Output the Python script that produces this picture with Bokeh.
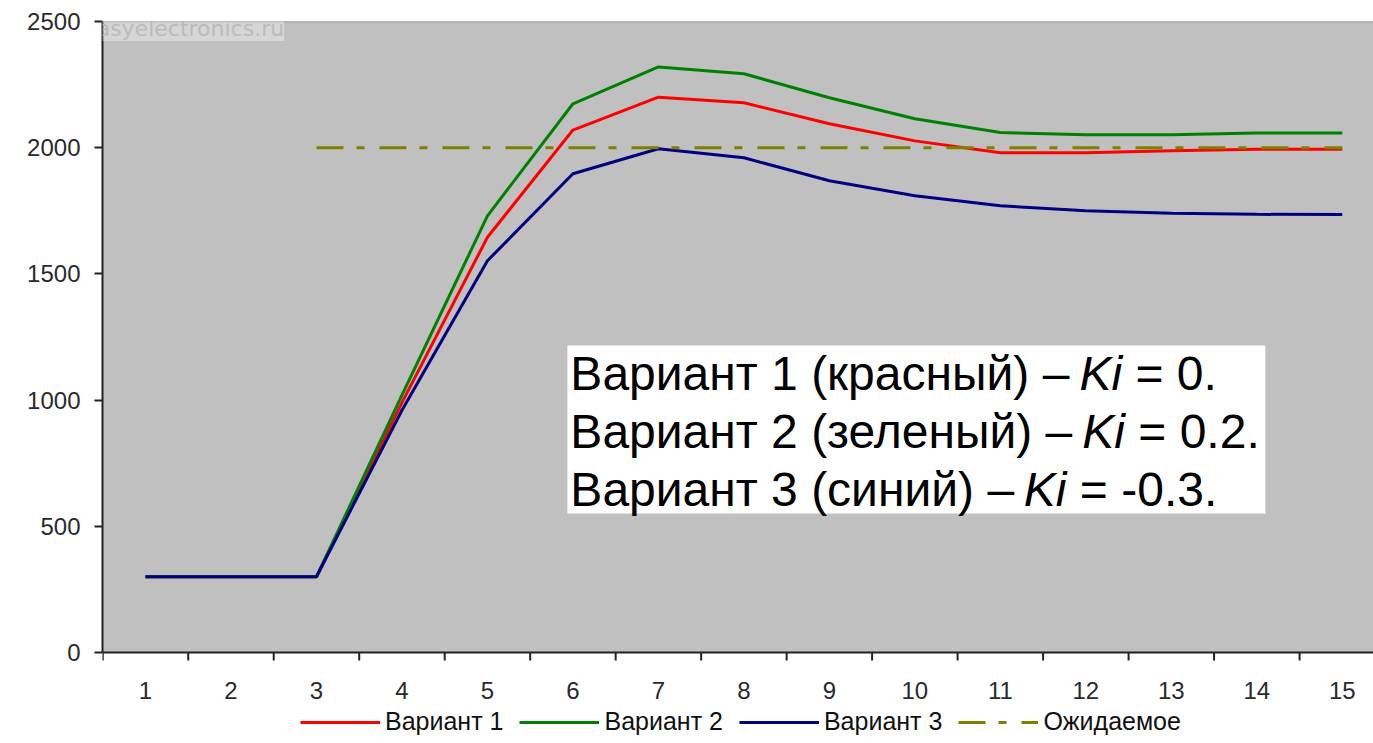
import math
from bokeh.plotting import figure
from bokeh.models import (FixedTicker, Legend, LegendItem, Label, BoxAnnotation,
                          Span, Range1d)
from bokeh.core.properties import value
from bokeh.embed import file_html
from bokeh.resources import INLINE

# ---------------- data ----------------
steps = list(range(1, 16))
step_labels = [str(s) for s in steps]
variant1 = [300, 300, 300, 990, 1645, 2070, 2200, 2178, 2095, 2027, 1980, 1980, 1988, 1994, 1994]
variant2 = [300, 300, 300, 1020, 1730, 2174, 2320, 2293, 2198, 2115, 2060, 2051, 2051, 2058, 2058]
variant3 = [300, 300, 300, 960, 1552, 1897, 1996, 1960, 1869, 1810, 1770, 1750, 1740, 1736, 1735]
expected = [math.nan, math.nan, 2000, 2000, 2000, 2000, 2000, 2000, 2000, 2000, 2000, 2000, 2000, 2000, 2000]
series_names = ["Вариант 1", "Вариант 2", "Вариант 3", "Ожидаемое"]
y_ticks = [0, 500, 1000, 1500, 2000, 2500]
note_lines = [
    ("Вариант 1 (красный) –", "Ki", "= 0."),
    ("Вариант 2 (зеленый) –", "Ki", "= 0.2."),
    ("Вариант 3 (синий) –", "Ki", "= -0.3."),
]
watermark = "forum.easyelectronics.ru"

# ---------------- figure ----------------
FONT = "Liberation Sans"
Y_MAX = 2500
PX = Y_MAX / 631.0          # data units per pixel (plot area 631 px tall)
p = figure(width=1373, height=743, output_backend="svg", toolbar_location=None,
           x_range=Range1d(0.497, 15.365), y_range=Range1d(-91 * PX, Y_MAX),
           x_axis_location=None,
           min_border_left=102, min_border_right=0, min_border_top=21,
           min_border_bottom=0)
p.background_fill_color = "white"
p.border_fill_color = "white"
p.outline_line_color = None
p.xgrid.visible = False
p.ygrid.visible = False

# grey plot area and its top border
p.add_layout(BoxAnnotation(bottom=0, top=Y_MAX, fill_color="#c0c0c0", fill_alpha=1,
                           line_color=None, level="underlay"))
p.add_layout(Span(location=Y_MAX, dimension="width", line_color="#808080", line_width=1.5))

r1 = p.line(steps, variant1, line_color="#ff0000", line_width=3)
r2 = p.line(steps, variant2, line_color="#008000", line_width=3)
r3 = p.line(steps, variant3, line_color="#000080", line_width=3)
r4 = p.line(steps, expected, line_color="#808000", line_width=3, line_dash="27 13 8 15")

# category (x) axis drawn along y = 0
p.add_layout(Span(location=0, dimension="width", line_color="#222222", line_width=2))
bounds = [s - 0.5 for s in steps] + [steps[-1] + 0.5]
p.segment(x0=bounds, x1=bounds, y0=[0] * len(bounds), y1=[-8 * PX] * len(bounds),
          line_color="#222222", line_width=2)
p.text(x=steps, y=[-38 * PX] * len(steps), text=step_labels, text_align="center",
       text_baseline="middle", text_font=value(FONT), text_font_size="24px",
       text_color="#2a2a2a")

# value (y) axis
ya = p.yaxis[0]
ya.bounds = (0, Y_MAX)
ya.ticker = FixedTicker(ticks=y_ticks)
ya.minor_tick_line_color = None
ya.major_tick_line_color = "#222222"
ya.major_tick_line_width = 2
ya.major_tick_out = 8
ya.major_tick_in = 0
ya.axis_line_color = "#222222"
ya.axis_line_width = 2
ya.major_label_text_font = FONT
ya.major_label_text_font_size = "24px"
ya.major_label_text_color = "#2a2a2a"
ya.major_label_standoff = 14

# legend (below the axis labels)
legend = Legend(items=[LegendItem(label=n, renderers=[r]) for n, r in
                       zip(series_names, [r1, r2, r3, r4])],
                orientation="horizontal", location=(198, 7),
                glyph_width=80, glyph_height=20, label_height=20,
                label_standoff=5, spacing=16,
                padding=0, margin=0, border_line_color=None,
                background_fill_alpha=0,
                label_text_font=FONT, label_text_font_size="25px",
                label_text_color="#111111")
p.add_layout(legend)

# annotation box with text
p.add_layout(BoxAnnotation(left=5.935, right=14.1, bottom=551, top=1216,
                           fill_color="white", fill_alpha=1, line_color=None))

W = {'В': .667, 'а': .556, 'р': .556, 'и': .547, 'н': .547, 'т': .44, ' ': .278,
     '1': .556, '2': .556, '3': .556, '0': .556, '(': .333, ')': .333, 'к': .44,
     'с': .5, 'ы': .7, 'й': .547, '–': .556, 'з': .46, 'е': .556, 'л': .54,
     'K': .667, 'i': .222, '=': .584, '.': .278, '-': .333}
NOTE_SIZE = 48


def tw(s):
    return sum(W.get(c, .556) for c in s) * NOTE_SIZE


baselines = [1105, 875, 645]
for (pre, ital, post), yb in zip(note_lines, baselines):
    common = dict(x=5.97, y=yb, text_font=FONT, text_font_size=f"{NOTE_SIZE}px",
                  text_color="black", text_baseline="alphabetic")
    off_i = tw(pre + " ")
    off_p = off_i + tw(ital + " ")
    p.add_layout(Label(text=pre, x_offset=0, **common))
    p.add_layout(Label(text=ital, x_offset=off_i, text_font_style="italic", **common))
    p.add_layout(Label(text=post, x_offset=off_p, **common))

# watermark
p.add_layout(Label(x=0.497, y=Y_MAX, x_offset=-92, y_offset=-7, text=watermark,
                   text_font="DejaVu Sans", text_font_size="22px",
                   text_color="#b4b4b4", text_alpha=0.8, text_baseline="middle",
                   background_fill_color="white", background_fill_alpha=0.35))

open("out.html", "w").write(file_html(p, INLINE))
